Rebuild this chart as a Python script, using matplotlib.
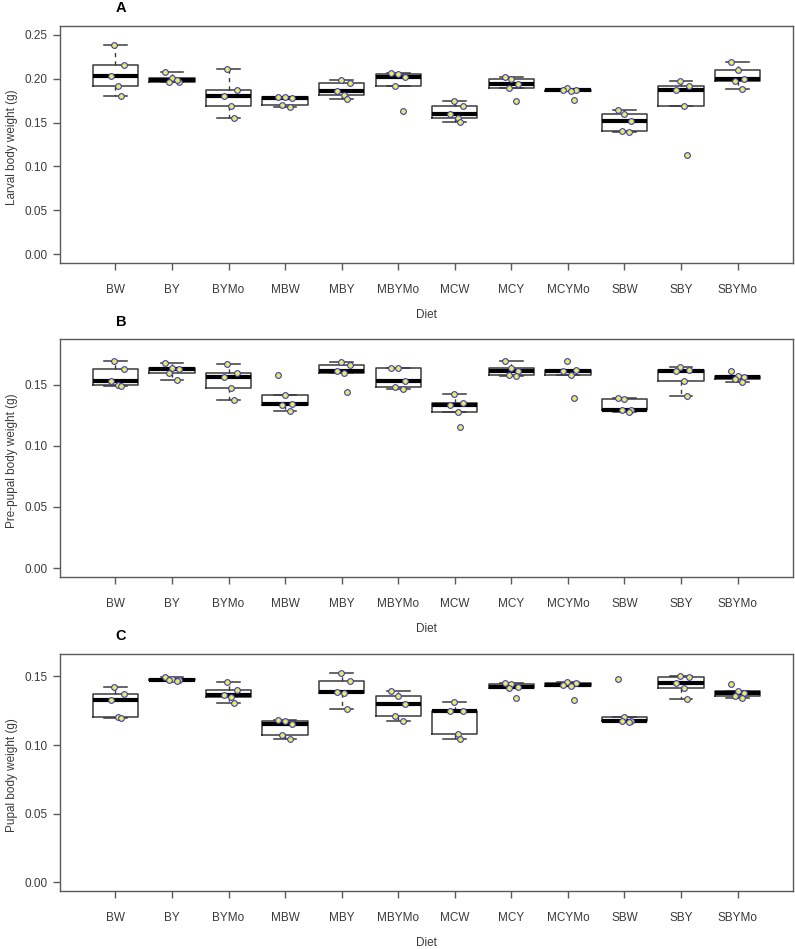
import math
import numpy as np
import matplotlib
matplotlib.use("Agg")
import matplotlib.pyplot as plt

plt.rcParams['font.family'] = ['Liberation Sans', 'DejaVu Sans']

diets = ["BW", "BY", "BYMo", "MBW", "MBY", "MBYMo",
         "MCW", "MCY", "MCYMo", "SBW", "SBY", "SBYMo"]

larval = [
    [0.238, 0.2153, 0.203, 0.1912, 0.180],      # BW
    [0.2076, 0.2011, 0.196, 0.1964, 0.198],     # BY
    [0.2107, 0.1866, 0.1800, 0.1686, 0.1557],   # BYMo
    [0.1795, 0.179, 0.1785, 0.1695, 0.168],     # MBW
    [0.1981, 0.1954, 0.1859, 0.181, 0.1763],    # MBY
    [0.2069, 0.2054, 0.2015, 0.1916, 0.163],    # MBYMo
    [0.1744, 0.1691, 0.1603, 0.155, 0.1511],    # MCW
    [0.2015, 0.1994, 0.1937, 0.1897, 0.1740],   # MCY
    [0.1893, 0.1875, 0.1870, 0.1865, 0.1760],   # MCYMo
    [0.1638, 0.1592, 0.1523, 0.1405, 0.1389],   # SBW
    [0.197, 0.1916, 0.1867, 0.1685, 0.113],     # SBY
    [0.2187, 0.2099, 0.1995, 0.1975, 0.1882],   # SBYMo
]

prepupal = [
    [0.1695, 0.1623, 0.1530, 0.1495, 0.1490],   # BW
    [0.1677, 0.1638, 0.1626, 0.1592, 0.1536],   # BY
    [0.1665, 0.1597, 0.1563, 0.1475, 0.1374],   # BYMo
    [0.1580, 0.1418, 0.1338, 0.1335, 0.1280],   # MBW
    [0.1683, 0.1656, 0.1612, 0.1598, 0.1437],   # MBY
    [0.1636, 0.1632, 0.1530, 0.1484, 0.1466],   # MBYMo
    [0.1423, 0.1348, 0.1333, 0.1279, 0.1154],   # MCW
    [0.1695, 0.1638, 0.1612, 0.1574, 0.1569],   # MCY
    [0.1695, 0.1622, 0.1610, 0.1578, 0.1393],   # MCYMo
    [0.1390, 0.1386, 0.1296, 0.1290, 0.1278],   # SBW
    [0.1645, 0.1621, 0.1607, 0.1525, 0.1404],   # SBY
    [0.1607, 0.1569, 0.1558, 0.1547, 0.1519],   # SBYMo
]

pupal = [
    [0.1420, 0.1370, 0.1329, 0.1203, 0.1195],   # BW
    [0.1493, 0.1480, 0.1476, 0.1471, 0.1465],   # BY
    [0.1458, 0.1405, 0.1362, 0.1352, 0.1307],   # BYMo
    [0.1184, 0.1178, 0.1152, 0.1075, 0.1042],   # MBW
    [0.1527, 0.1465, 0.1387, 0.1376, 0.1263],   # MBY
    [0.1397, 0.1358, 0.1297, 0.1212, 0.1172],   # MBYMo
    [0.1312, 0.1251, 0.1249, 0.1078, 0.1047],   # MCW
    [0.1454, 0.1446, 0.1427, 0.1414, 0.1341],   # MCY
    [0.1463, 0.1451, 0.1441, 0.1432, 0.1326],   # MCYMo
    [0.1480, 0.1205, 0.1179, 0.1174, 0.1169],   # SBW
    [0.1507, 0.1495, 0.1451, 0.1417, 0.1336],   # SBY
    [0.1445, 0.1391, 0.1378, 0.1357, 0.1341],   # SBYMo
]

ylabels = ["Larval body weight (g)", "Pre-pupal body weight (g)", "Pupal body weight (g)"]
panel_letters = ["A", "B", "C"]
yticks_list = [[0, 0.05, 0.10, 0.15, 0.20, 0.25],
               [0, 0.05, 0.10, 0.15],
               [0, 0.05, 0.10, 0.15]]
ymax_list = [0.25, 0.18, 0.16]

JITTER = [-0.02, 0.15, -0.08, 0.05, 0.10, -0.12, 0.0, 0.12, -0.05, 0.08]


def fivenum(x):
    x = sorted(x)
    n = len(x)
    n4 = math.floor((n + 3) / 2) / 2
    d = [1, n4, (n + 1) / 2, n + 1 - n4, n]
    return [0.5 * (x[math.floor(di) - 1] + x[math.ceil(di) - 1]) for di in d]


def rstats(x):
    s = fivenum(x)
    iqr = s[3] - s[1]
    inside = [v for v in x if s[1] - 1.5 * iqr <= v <= s[3] + 1.5 * iqr]
    return dict(med=s[2], q1=s[1], q3=s[3], whislo=min(inside), whishi=max(inside), fliers=[])


W, H = 795, 949
fig = plt.figure(figsize=(W / 100, H / 100), dpi=100)

axes_px = [(26, 263), (339, 577), (654, 891)]
left_px, right_px = 60, 793

textc = "#3a3a3a"
framec = "#5a5a5a"

for k, (data, (top, bot)) in enumerate(zip([larval, prepupal, pupal], axes_px)):
    ax = fig.add_axes([left_px / W, 1 - bot / H, (right_px - left_px) / W, (bot - top) / H])
    stats = [rstats(v) for v in data]
    pos = np.arange(1, len(diets) + 1)
    ax.bxp(stats, positions=pos, widths=0.8, showfliers=False, manage_ticks=False,
           capwidths=0.4,
           boxprops=dict(color="#3a3a3a", lw=1.1),
           whiskerprops=dict(color="#3a3a3a", lw=1.0, linestyle=(0, (3, 3))),
           capprops=dict(color="#3a3a3a", lw=1.1),
           medianprops=dict(color="black", lw=3.0, solid_capstyle="butt"))
    j = 0
    for i, vals in enumerate(data):
        for v in vals:
            ax.scatter(pos[i] + JITTER[j % len(JITTER)], v, s=17, facecolor="#ecec5a",
                       edgecolor="#3c3cc0", linewidth=0.8, zorder=4)
            j += 1
    ymax = ymax_list[k]
    pad = 0.04 * ymax
    ax.set_ylim(-pad, ymax + pad)
    ax.set_xlim(0.5 - 0.48, 12.5 + 0.48)
    ax.set_xticks(pos)
    ax.set_xticklabels(diets)
    ax.set_yticks(yticks_list[k])
    ax.set_yticklabels(["%.2f" % t for t in yticks_list[k]])
    ax.tick_params(axis="both", length=5, width=1, color=framec, labelcolor=textc,
                   labelsize=8.5)
    ax.tick_params(axis="x", pad=10)
    ax.tick_params(axis="y", pad=4)
    for sp in ax.spines.values():
        sp.set_color(framec)
        sp.set_linewidth(1.0)
    # panel letter
    fig.text(121 / W, 1 - (top - 17.5) / H, panel_letters[k], ha="center", va="center",
             fontsize=10.5, fontweight="bold", color="black")
    # y label
    fig.text(12 / W, 1 - ((top + bot) / 2 + 3) / H, ylabels[k], rotation=90,
             ha="center", va="center", fontsize=8.5, color=textc)
    # x label
    fig.text(426 / W, 1 - (bot + 52) / H, "Diet", ha="center", va="center",
             fontsize=8.5, color=textc)

fig.savefig("out.png", dpi=100)
